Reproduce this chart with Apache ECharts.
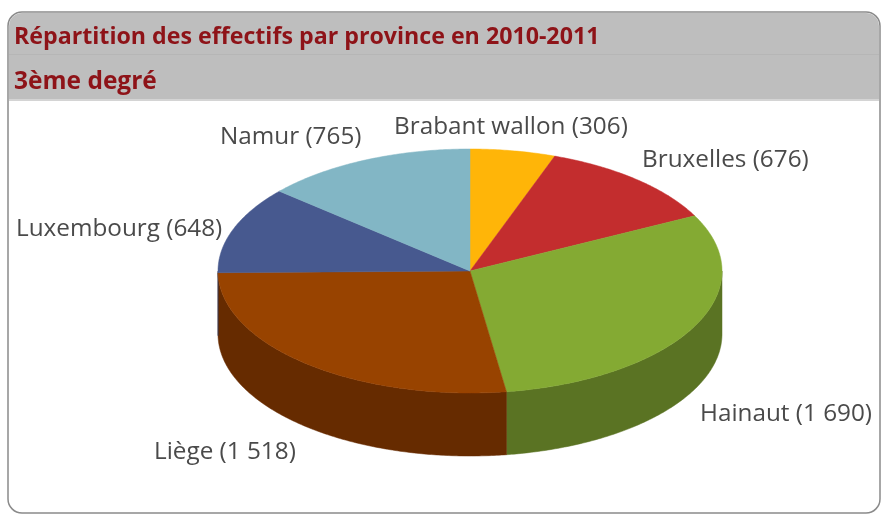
<!DOCTYPE html>
<html><head><meta charset="utf-8">
<style>html,body{margin:0;padding:0;background:#fff}#c{width:881px;height:517px}</style>
<script src="https://cdn.jsdelivr.net/npm/echarts@6/dist/echarts.min.js"></script>
</head><body><div id="c"></div>
<script>
const titleLine1 = 'Répartition des effectifs par province en 2010-2011';
const titleLine2 = '3ème degré';
const provinces = ['Brabant wallon','Bruxelles','Hainaut','Liège','Luxembourg','Namur'];
const effectifs = [306,676,1690,1518,648,765];
const valueLabels = ['306','676','1 690','1 518','648','765'];

const topColors = ['#FFB508','#C32D2E','#84AA33','#984300','#47598F','#82B6C5'];
const sideColors = ['#B98300','#8D2021','#5A7323','#662B00','#303D62','#5A8490'];
const labelAnchors = [[394,127],[642,160],[700,414],[154,452],[16,229],[220,137]];

const CX=470, CY=271, RX=252, RY=122, DEPTH=63;
const total = effectifs.reduce((a,b)=>a+b,0);
const starts = []; effectifs.reduce((acc,v,i)=>{starts[i]=acc;return acc+v;},0);
const pt=(t,dy)=>[CX+RX*Math.sin(t), CY+(dy||0)-RY*Math.cos(t)];
function arc(a,b,dy){const n=Math.max(2,Math.ceil((b-a)/0.01));const r=[];for(let i=0;i<=n;i++)r.push(pt(a+(b-a)*i/n,dy));return r;}

const chart = echarts.init(document.getElementById('c'),null,{renderer:'canvas'});
function sideItem(params,api){
  const s=api.value(1)/total*2*Math.PI, e=s+api.value(0)/total*2*Math.PI;
  const a=Math.max(s,Math.PI/2), b=Math.min(e,3*Math.PI/2);
  if(b<=a) return {type:'group',children:[]};
  const top=arc(a,b,0), bot=arc(a,b,DEPTH).reverse();
  return {type:'polygon',shape:{points:top.concat(bot)},style:{fill:sideColors[params.dataIndex],stroke:sideColors[params.dataIndex],lineWidth:.5},silent:true};
}
function topItem(params,api){
  const s=api.value(1)/total*2*Math.PI, e=s+api.value(0)/total*2*Math.PI;
  return {type:'polygon',shape:{points:[[CX,CY]].concat(arc(s,e,0))},style:{fill:topColors[params.dataIndex],stroke:topColors[params.dataIndex],lineWidth:.5},silent:true};
}
function labelItem(params,api){
  const i=params.dataIndex;
  return {type:'text',x:labelAnchors[i][0],y:labelAnchors[i][1],silent:true,
    style:{text:provinces[i]+' ('+valueLabels[i]+')',fill:'#4a4a4a',font:'24.3px "Open Sans", sans-serif',textAlign:'left',textVerticalAlign:'middle'}};
}
const rows = effectifs.map((v,i)=>[v,starts[i]]);
chart.setOption({
  animation:false,
  backgroundColor:'#fff',
  graphic:[
    {type:'rect',z:-1,shape:{x:8,y:12,width:872,height:501,r:14},style:{fill:'#fff',stroke:'#8a8a8a',lineWidth:1.5},silent:true},
    {type:'rect',z:0,shape:{x:9,y:13,width:870,height:41,r:[13,13,0,0]},style:{fill:'#BEBEBE'},silent:true},
    {type:'rect',z:0,shape:{x:9,y:55,width:870,height:44},style:{fill:'#BEBEBE'},silent:true},
    {type:'rect',z:0,shape:{x:9,y:54,width:870,height:1},style:{fill:'#B6B6B6'},silent:true},
    {type:'rect',z:0,shape:{x:9,y:99,width:870,height:2},style:{fill:'#D4D4D4'},silent:true},
    {type:'text',z:1,x:14,y:37,style:{text:titleLine1,fill:'#8E1318',font:'bold 23.2px "Open Sans", sans-serif',textVerticalAlign:'middle'},silent:true},
    {type:'text',z:1,x:14,y:82,style:{text:titleLine2,fill:'#8E1318',font:'bold 24.5px "Open Sans", sans-serif',textVerticalAlign:'middle'},silent:true}
  ],
  series:[
    {type:'custom',coordinateSystem:'none',data:rows,renderItem:sideItem,z:2},
    {type:'custom',coordinateSystem:'none',data:rows,renderItem:topItem,z:3},
    {type:'custom',coordinateSystem:'none',data:rows,renderItem:labelItem,z:4}
  ]
});
</script></body></html>
